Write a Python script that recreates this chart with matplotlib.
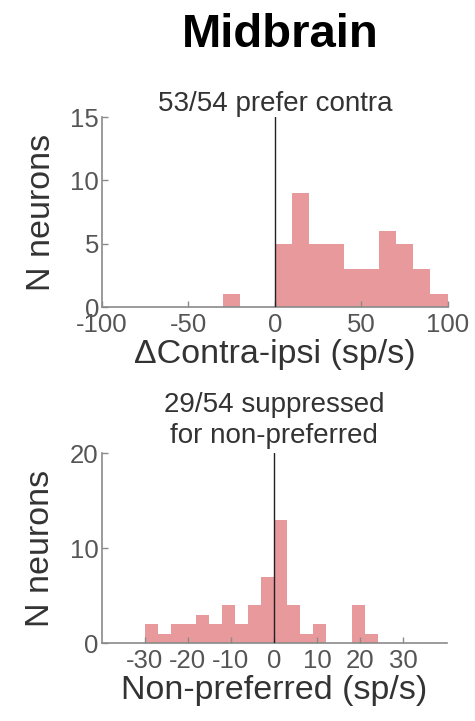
import numpy as np
import matplotlib
matplotlib.use("Agg")
import matplotlib.pyplot as plt

# top histogram: contra - ipsi, bins of 10 sp/s
top_edges = list(range(-100, 101, 10))
top_counts = [0, 0, 0, 0, 0, 0, 0, 1, 0, 0, 5, 9, 5, 5, 3, 3, 6, 5, 3, 1]

# bottom histogram: non-preferred response, bins of 3 sp/s
bot_edges = list(range(-30, 25, 3))
bot_counts = [2, 1, 2, 2, 3, 2, 4, 2, 4, 7, 13, 4, 1, 2, 0, 0, 4, 1]

top_title = "53/54 prefer contra"
bot_title = "29/54 suppressed\nfor non-preferred"

plt.rcParams["font.family"] = ["Liberation Sans", "DejaVu Sans"]
plt.rcParams["axes.unicode_minus"] = False

bar_col = "#e8999b"
txt_col = "#333333"
tick_col = "#555555"
spine_col = "#8a8a8a"


def draw_hist(ax, edges, counts, xlim, ylim, xticks, yticks, xlabel, title, tpad):
    edges = np.array(edges, dtype=float)
    ax.bar(edges[:-1], counts, width=np.diff(edges), align="edge",
           color=bar_col, edgecolor="none", zorder=1)
    ax.axvline(0, color="#222222", lw=1.0, zorder=3)
    ax.set_xlim(*xlim)
    ax.set_ylim(*ylim)
    ax.set_xticks(xticks)
    ax.set_yticks(yticks)
    for s in ["top", "right"]:
        ax.spines[s].set_visible(False)
    for s in ["left", "bottom"]:
        ax.spines[s].set_color(spine_col)
        ax.spines[s].set_linewidth(1.2)
    ax.tick_params(direction="in", length=4, width=1, color=spine_col,
                   labelcolor=tick_col, labelsize=18.5)
    ax.tick_params(axis="x", pad=4)
    ax.tick_params(axis="y", pad=2)
    ax.set_xlabel(xlabel, fontsize=24.5, color=txt_col, labelpad=2)
    ax.set_ylabel("N neurons", fontsize=24.5, color=txt_col, labelpad=10)
    ax.set_title(title, fontsize=20, color=txt_col, pad=tpad, linespacing=1.25)


fig = plt.figure(figsize=(4.75, 7.21), dpi=100)
fig.text(0.59, 0.952, "Midbrain", ha="center", va="center",
         fontsize=34, fontweight="bold", color="black")

ax1 = fig.add_axes([0.2147, 0.574, 0.728, 0.2635])
draw_hist(ax1, top_edges, top_counts, (-100, 100), (0, 15),
          [-100, -50, 0, 50, 100], [0, 5, 10, 15],
          "\u0394Contra-ipsi (sp/s)", top_title, 2)

ax2 = fig.add_axes([0.214, 0.108, 0.726, 0.2635])
draw_hist(ax2, bot_edges, bot_counts, (-40, 40), (0, 20),
          [-30, -20, -10, 0, 10, 20, 30], [0, 10, 20],
          "Non-preferred (sp/s)", bot_title, 7)

fig.savefig("out.png", dpi=100)
